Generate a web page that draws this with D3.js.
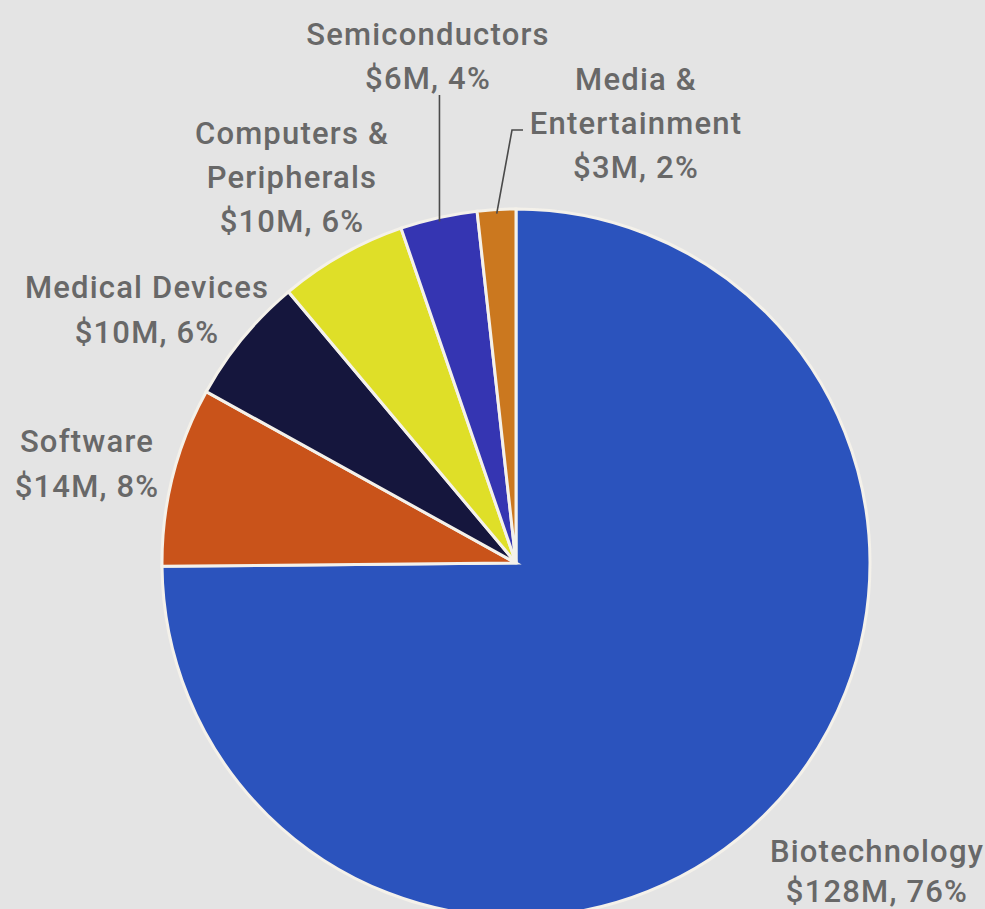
<!DOCTYPE html>
<html>
<head>
<meta charset="utf-8">
<script src="https://cdn.jsdelivr.net/npm/d3@7/dist/d3.min.js"></script>
<style>
  html, body { margin: 0; padding: 0; background: #e4e4e4; }
  svg { display: block; }
  text { font-family: Roboto, "DejaVu Sans", sans-serif; font-weight: 500; fill: #686868; letter-spacing: 1.2px; }
</style>
</head>
<body>
<div id="chart"></div>
<script>
// Venture investment by industry (millions of dollars)
const categories = ["Biotechnology", "Software", "Medical Devices", "Computers & Peripherals", "Semiconductors", "Media & Entertainment"];
const values = [128, 14, 10, 10, 6, 3];
const percents = [76, 8, 6, 6, 4, 2];
const labelLines = [
  ["Biotechnology"],
  ["Software"],
  ["Medical Devices"],
  ["Computers &", "Peripherals"],
  ["Semiconductors"],
  ["Media &", "Entertainment"]
];
const colors = ["#2b53bd", "#c9531a", "#15163d", "#dfdf28", "#3535b2", "#cb781f"];

const W = 985, H = 909;
const cx = 516, cy = 563, R = 354;

const svg = d3.select("#chart").append("svg")
  .attr("width", W).attr("height", H);

svg.append("rect").attr("width", W).attr("height", H).attr("fill", "#e4e4e4");

const pie = d3.pie().sort(null).value(d => d.value).startAngle(0).endAngle(2 * Math.PI);
const data = categories.map((c, i) => ({ name: c, value: values[i], pct: percents[i], lines: labelLines[i], color: colors[i] }));
const arcs = pie(data);

const arc = d3.arc().innerRadius(0).outerRadius(R);
const edge = d3.arc().innerRadius(R - 4).outerRadius(R - 4);

const g = svg.append("g").attr("transform", `translate(${cx},${cy})`);

g.selectAll("path.slice")
  .data(arcs)
  .enter().append("path")
  .attr("class", "slice")
  .attr("d", arc)
  .attr("fill", d => d.data.color)
  .attr("stroke", "#f4f1ea")
  .attr("stroke-width", 3)
  .attr("stroke-linejoin", "miter");

// Label placement, relative to the pie centre
const labelLayout = {
  "Biotechnology":           { dx: 361, dy: 299, lh: 40 },
  "Software":                { dx: -429, dy: -111, lh: 45 },
  "Medical Devices":         { dx: -369, dy: -265, lh: 45 },
  "Computers & Peripherals": { dx: -224, dy: -419, lh: 44 },
  "Semiconductors":          { dx: -88, dy: -518, lh: 44 },
  "Media & Entertainment":   { dx: 120, dy: -473, lh: 44 }
};

const labels = g.selectAll("text.lab")
  .data(arcs)
  .enter().append("text")
  .attr("class", "lab")
  .attr("text-anchor", "middle")
  .attr("font-size", 31)
  .attr("x", d => labelLayout[d.data.name].dx)
  .attr("y", d => labelLayout[d.data.name].dy);

labels.each(function(d) {
  const L = labelLayout[d.data.name];
  const t = d3.select(this);
  const lines = d.data.lines.concat([`$${d.data.value}M, ${d.data.pct}%`]);
  lines.forEach((s, k) => {
    t.append("tspan")
      .attr("x", L.dx)
      .attr("dy", k === 0 ? 0 : L.lh)
      .text(s);
  });
});

// Leader lines for the two narrow slices at the top
const semi = arcs[4], media = arcs[5];
const semiPt = edge.centroid(semi);
g.append("line")
  .attr("x1", semiPt[0]).attr("x2", semiPt[0])
  .attr("y1", -468).attr("y2", semiPt[1])
  .attr("stroke", "#4a4a4a").attr("stroke-width", 1.6);

const mediaPt = edge.centroid(media);
g.append("polyline")
  .attr("points", [[7, -433], [-4, -433], mediaPt].map(p => p.join(",")).join(" "))
  .attr("fill", "none")
  .attr("stroke", "#4a4a4a").attr("stroke-width", 1.6);
</script>
</body>
</html>
